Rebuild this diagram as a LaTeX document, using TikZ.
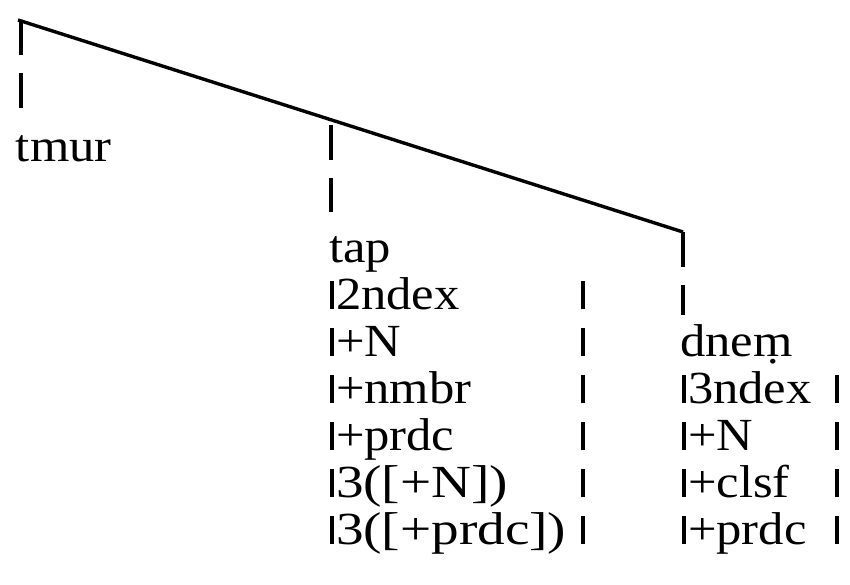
\documentclass[tikz,border=0pt]{standalone}
\usepackage{fontspec}
\setmainfont{Liberation Serif}[FakeStretch=1.1]
\newfontfamily\widerm{Liberation Serif}[FakeStretch=1.2]
\begin{document}
\begin{tikzpicture}[x=1pt,y=-1pt,
  lbl/.style={anchor=base west,inner sep=0pt,outer sep=0pt,font=\fontsize{46}{47}\selectfont},
  branch/.style={line width=3.4pt},
  stem/.style={line width=3.4pt,dash pattern=on 35pt off 18pt},
  bar/.style={line width=3.2pt}]
\useasboundingbox (0,0) rectangle (850,585);
% tree skeleton
\coordinate (root) at (21,20);
\coordinate (jtap) at (331,125);
\coordinate (jdnem) at (683,232);
\coordinate (eL) at (21,108);
\coordinate (eM) at (331,212);
\coordinate (eR) at (683,315);
\coordinate (rbA) at (583,0);
\coordinate (rbB) at (837,0);
% heads
\node[lbl] (tmur) at (16,162) {tmur};
\node[lbl] (tap) at (329,262) {tap};
\node[lbl] (dnem) at (680,356) {dneṃ};
% tap features
\node[lbl] (a1) at (336,309) {2ndex};
\node[lbl] (a2) at (336,356) {+N};
\node[lbl] (a3) at (336,403) {+nmbr};
\node[lbl] (a4) at (336,450) {+prdc};
\node[lbl] (a5) at (336,497) {\widerm 3([+N])};
\node[lbl] (a6) at (336,544) {\widerm 3([+prdc])};
% dnem features
\node[lbl] (b1) at (688,403) {3ndex};
\node[lbl] (b2) at (688,450) {+N};
\node[lbl] (b3) at (688,497) {+clsf};
\node[lbl] (b4) at (688,544) {+prdc};
% connectors
\draw[branch] ([xshift=-3pt]root) -- (jdnem);
\draw[stem] (root) -- (eL);
\draw[stem] (jtap) -- (eM);
\draw[stem] (jdnem) -- (eR);
% feature bars
\foreach \r in {a1,a2,a3,a4,a5,a6} {
  \draw[bar] ([xshift=-4pt]\r.base west) -- ++(0,-28);
  \draw[bar] (\r.base west -| rbA) -- ++(0,-28);
}
\foreach \r in {b1,b2,b3,b4} {
  \draw[bar] ([xshift=-4pt]\r.base west) -- ++(0,-28);
  \draw[bar] (\r.base west -| rbB) -- ++(0,-28);
}
\end{tikzpicture}
\end{document}
